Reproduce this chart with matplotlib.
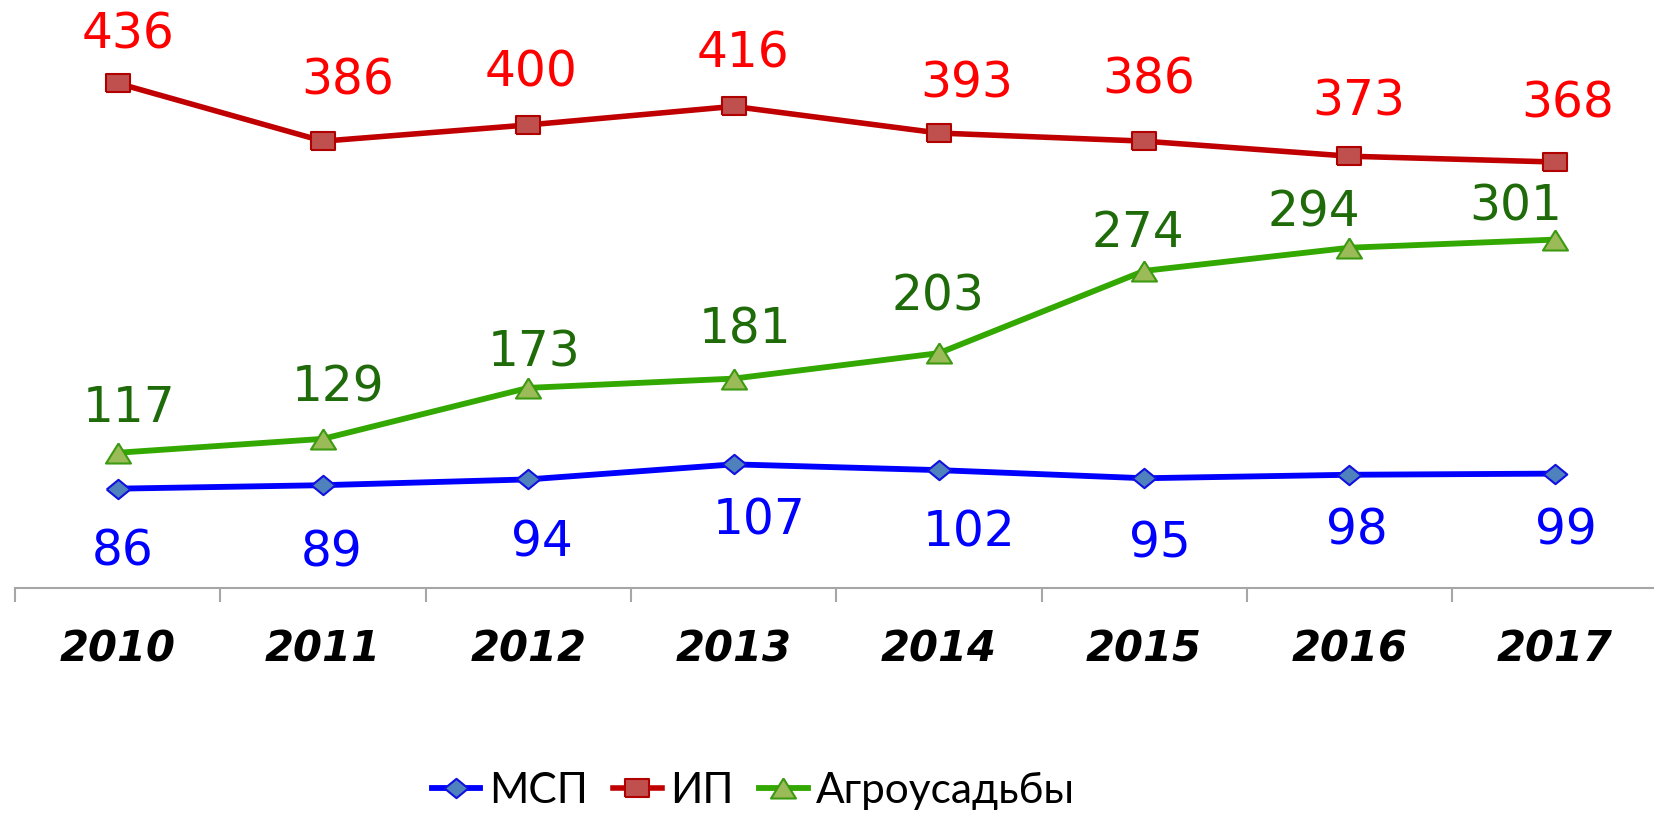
import matplotlib
matplotlib.use("Agg")
import matplotlib.pyplot as plt
from matplotlib.lines import Line2D

years = ["2010", "2011", "2012", "2013", "2014", "2015", "2016", "2017"]
msp = [86, 89, 94, 107, 102, 95, 98, 99]
ip = [436, 386, 400, 416, 393, 386, 373, 368]
agro = [117, 129, 173, 181, 203, 274, 294, 301]
series_names = ["МСП", "ИП", "Агроусадьбы"]

# label placement (pixel offsets from marker: dx right, dy up) - as in the original
ip_off = [(10, 52), (25, 64), (3, 56), (9, 57), (28, 53), (5, 65), (9, 58), (13, 62)]
agro_off = [(11, 48), (15, 55), (6, 39), (11, 53), (-1, 60), (-6, 42), (-36, 39), (-39, 37)]
msp_off = [(5, -59), (9, -64), (14, -59), (26, -52), (30, -59), (16, -62), (7, -52), (11, -53)]

DPI = 100
fig = plt.figure(figsize=(16.54, 8.19), dpi=DPI)
ax = fig.add_axes([0.00907, 0.2817, 0.993, 0.7072])

x = list(range(len(years)))

diamond = [(-1, 0), (0, 0.82), (1, 0), (0, -0.82), (-1, 0)]
tri = [(0, 0.8), (-1, -0.8), (1, -0.8), (0, 0.8)]
rect = [(-1, -0.78), (1, -0.78), (1, 0.78), (-1, 0.78), (-1, -0.78)]

styles = [
    dict(color="#0000FF", lw=4.2, marker=diamond, ms=17, mfc="#4F81BD", mec="#1010E0", mew=1.5),
    dict(color="#C00000", lw=4.0, marker=rect, ms=17, mfc="#C0504D", mec="#B00000", mew=1.5),
    dict(color="#33A800", lw=4.2, marker=tri, ms=18, mfc="#9BBB59", mec="#3C9A10", mew=1.5),
]

ax.plot(x, msp, zorder=3, **styles[0])
ax.plot(x, ip, zorder=3, **styles[1])
ax.plot(x, agro, zorder=3, **styles[2])

FS = 35
half_digit_pt = 0.3645 * FS
px2pt = 72.0 / DPI
lab_kw = dict(fontsize=FS, family="DejaVu Sans", ha="center", va="baseline")


def put_labels(vals, offs, color):
    for xi, v, (dx, dy) in zip(x, vals, offs):
        ax.annotate(str(v), (xi, v), xytext=(dx * px2pt, dy * px2pt - half_digit_pt),
                    textcoords="offset points", color=color, **lab_kw)


put_labels(ip, ip_off, "#FF0000")
put_labels(agro, agro_off, "#1F6B0A")
put_labels(msp, msp_off, "#0000FF")

ax.set_xlim(-0.5, len(years) - 0.5)
ax.set_ylim(0, 500)
ax.set_yticks([])
for s in ["top", "right", "left"]:
    ax.spines[s].set_visible(False)
ax.spines["bottom"].set_color("#A6A6A6")
ax.spines["bottom"].set_linewidth(1.5)

ax.set_xticks([i - 0.5 for i in range(len(years) + 1)], minor=False)
ax.set_xticklabels([])
ax.tick_params(axis="x", which="major", length=10, width=1.5, color="#A6A6A6")
ax.set_xticks(x, minor=True)
ax.set_xticklabels(years, minor=True, fontsize=30, fontweight="bold",
                   fontstyle="italic", family="DejaVu Sans")
ax.tick_params(axis="x", which="minor", length=0, pad=29)

handles = [Line2D([], [], **st) for st in styles]
fig.legend(handles, series_names, loc="center", bbox_to_anchor=(0.4555, 0.034),
           ncol=3, frameon=False, handlelength=1.15, handletextpad=0.2,
           columnspacing=0.6,
           prop={"family": ["Lato", "Open Sans", "DejaVu Sans"], "size": 30.5})

fig.savefig("out.png", dpi=DPI)
